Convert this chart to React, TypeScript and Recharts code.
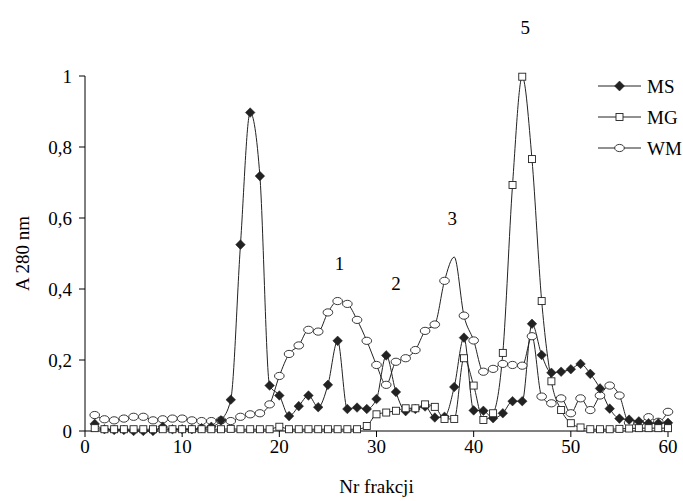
import React from "react";
import { LineChart, Line, XAxis, YAxis, Legend, ReferenceDot } from "recharts";

const fractionNo = [
  1, 2, 3, 4, 5, 6, 7, 8, 9, 10, 11, 12, 13, 14, 15, 16, 17, 18, 19, 20,
  21, 22, 23, 24, 25, 26, 27, 28, 29, 30, 31, 32, 33, 34, 35, 36, 37, 38, 39, 40,
  41, 42, 43, 44, 45, 46, 47, 48, 49, 50, 51, 52, 53, 54, 55, 56, 57, 58, 59, 60,
];

const msValues = [
  0.02, 0.005, 0.003, 0.003, 0.0, 0.0, 0.0, 0.012, 0.005, 0.005,
  0.005, 0.008, 0.012, 0.03, 0.088, 0.525, 0.897, 0.718, 0.128, 0.1,
  0.042, 0.07, 0.1, 0.067, 0.13, 0.254, 0.062, 0.066, 0.062, 0.09,
  0.213, 0.11, 0.056, 0.062, 0.069, 0.038, 0.04, 0.124, 0.263, 0.058,
  0.057, 0.036, 0.05, 0.084, 0.084, 0.302, 0.214, 0.164, 0.167, 0.174,
  0.189, 0.161, 0.12, 0.063, 0.035, 0.032, 0.027, 0.022, 0.022, 0.023,
];

const mgValues = [
  0.008, 0.005, 0.005, 0.005, 0.005, 0.005, 0.005, 0.005, 0.005, 0.005,
  0.005, 0.005, 0.005, 0.005, 0.006, 0.005, 0.005, 0.005, 0.005, 0.012,
  0.005, 0.005, 0.005, 0.005, 0.005, 0.005, 0.005, 0.005, 0.014, 0.047,
  0.052, 0.057, 0.064, 0.064, 0.075, 0.068, 0.034, 0.034, 0.205, 0.128,
  0.031, 0.05, 0.22, 0.693, 0.998, 0.766, 0.366, 0.14, 0.059, 0.022,
  0.01, 0.005, 0.005, 0.005, 0.006, 0.007, 0.008, 0.008, 0.008, 0.008,
];

const wmValues = [
  0.045, 0.033, 0.03, 0.035, 0.04, 0.04, 0.03, 0.033, 0.035, 0.035,
  0.03, 0.028, 0.028, 0.03, 0.028, 0.04, 0.047, 0.05, 0.075, 0.155,
  0.217, 0.241, 0.285, 0.28, 0.334, 0.366, 0.358, 0.313, 0.254, 0.186,
  0.13, 0.195, 0.205, 0.228, 0.282, 0.3, 0.423, 0.49, 0.325, 0.255,
  0.167, 0.175, 0.189, 0.186, 0.184, 0.267, 0.097, 0.078, 0.092, 0.05,
  0.092, 0.059, 0.1, 0.128, 0.1, 0.023, 0.022, 0.039, 0.026, 0.054,
];

const xTicks = [0, 10, 20, 30, 40, 50, 60];
const yTicks = [0, 0.2, 0.4, 0.6, 0.8, 1];

// peak numbers written above the chromatogram
const peakNames = ["1", "2", "3", "5"];
const peakSpots = [
  { x: 26.2, y: 0.473 },
  { x: 32.0, y: 0.417 },
  { x: 37.8, y: 0.6 },
  { x: 45.3, y: 1.138 },
];

// WM point whose marker is not shown (top of the clipped peak)
const hiddenWmFraction = 38;

const data = fractionNo.map((f, i) => ({
  fraction: f,
  MS: msValues[i],
  MG: mgValues[i],
  WM: wmValues[i],
}));

const FONT = '"Liberation Serif", "Times New Roman", serif';
const INK = "#222";

const Diamond = ({ cx, cy, size = 4.8 }: { cx: number; cy: number; size?: number }) => (
  <path
    d={`M${cx},${cy - size} L${cx + size},${cy} L${cx},${cy + size} L${cx - size},${cy} Z`}
    fill={INK}
    stroke={INK}
    strokeWidth={0.5}
  />
);

const Square = ({ cx, cy }: { cx: number; cy: number }) => (
  <rect x={cx - 3.5} y={cy - 3.5} width={7} height={7} fill="#fff" stroke={INK} strokeWidth={0.9} />
);

const Oval = ({ cx, cy }: { cx: number; cy: number }) => (
  <ellipse cx={cx} cy={cy} rx={4.8} ry={3.6} fill="#fff" stroke={INK} strokeWidth={0.9} />
);

const msDot = (p: any) =>
  p.cx == null ? null : <g key={`ms-${p.index}`}><Diamond cx={p.cx} cy={p.cy} /></g>;
const mgDot = (p: any) =>
  p.cx == null ? null : <g key={`mg-${p.index}`}><Square cx={p.cx} cy={p.cy} /></g>;
const wmDot = (p: any) => {
  if (p.cx == null || p.payload?.fraction === hiddenWmFraction) return <g key={`wm-${p.index}`} />;
  return (
    <g key={`wm-${p.index}`}>
      <Oval cx={p.cx} cy={p.cy} />
    </g>
  );
};

const legendRows = [
  { name: "MS", mark: "diamond" },
  { name: "MG", mark: "square" },
  { name: "WM", mark: "oval" },
];

const renderLegend = () => (
  <svg width={95} height={95} style={{ display: "block" }}>
    {legendRows.map((row, i) => {
      const y = 16 + i * 31;
      return (
        <g key={row.name}>
          <line x1={3} x2={46} y1={y} y2={y} stroke={INK} strokeWidth={1} />
          {row.mark === "diamond" && <Diamond cx={24.5} cy={y} size={5} />}
          {row.mark === "square" && <Square cx={24.5} cy={y} />}
          {row.mark === "oval" && <Oval cx={24.5} cy={y} />}
          <text x={52} y={y} dy="0.35em" fontFamily={FONT} fontSize={19} fill="#000">
            {row.name}
          </text>
        </g>
      );
    })}
  </svg>
);

const formatY = (v: number) => {
  if (v === 0) return "0";
  if (v === 1) return "1";
  return v.toFixed(1).replace(".", ",");
};

export default function App() {
  return (
    <div style={{ position: "absolute", left: 0, top: 0, background: "#fff", fontFamily: FONT }}>
      <LineChart width={683} height={501} data={data} margin={{ top: 76, right: 15, bottom: 40, left: 25 }}>
        <XAxis
          dataKey="fraction"
          type="number"
          domain={[0, 60]}
          ticks={xTicks}
          height={30}
          stroke="#000"
          tickSize={6}
          tickMargin={3}
          tick={{ fontFamily: FONT, fontSize: 19, fill: "#000" }}
          label={{
            content: (props: any) => {
              const vb = props.viewBox;
              return (
                <text x={vb.x + vb.width / 2} y={493} textAnchor="middle" fontFamily={FONT} fontSize={19} fill="#000">
                  Nr frakcji
                </text>
              );
            },
          }}
        />
        <YAxis
          type="number"
          domain={[0, 1]}
          ticks={yTicks}
          width={60}
          stroke="#000"
          tickSize={6}
          tickMargin={7}
          tickFormatter={formatY}
          tick={{ fontFamily: FONT, fontSize: 19, fill: "#000" }}
          label={{
            content: (props: any) => {
              const vb = props.viewBox;
              const cy = vb.y + vb.height / 2;
              return (
                <text
                  x={22}
                  y={cy}
                  transform={`rotate(-90 22 ${cy})`}
                  textAnchor="middle"
                  dy="0.35em"
                  fontFamily={FONT}
                  fontSize={19}
                  fill="#000"
                >
                  A 280 nm
                </text>
              );
            },
          }}
        />
        <Legend
          layout="vertical"
          align="center"
          verticalAlign="middle"
          content={renderLegend}
          wrapperStyle={{ top: 70, left: 595, width: 95 }}
        />
        <Line
          type="monotone"
          dataKey="WM"
          stroke={INK}
          strokeWidth={1}
          dot={wmDot}
          activeDot={false}
          isAnimationActive={false}
        />
        <Line
          type="monotone"
          dataKey="MS"
          stroke={INK}
          strokeWidth={1}
          dot={msDot}
          activeDot={false}
          isAnimationActive={false}
        />
        <Line
          type="monotone"
          dataKey="MG"
          stroke={INK}
          strokeWidth={1}
          dot={mgDot}
          activeDot={false}
          isAnimationActive={false}
        />
        {peakSpots.map((s, i) => (
          <ReferenceDot
            key={peakNames[i]}
            x={s.x}
            y={s.y}
            r={0}
            fill="none"
            stroke="none"
            ifOverflow="visible"
            label={{ value: peakNames[i], position: "center", fontFamily: FONT, fontSize: 19, fill: "#000" }}
          />
        ))}
      </LineChart>
    </div>
  );
}
